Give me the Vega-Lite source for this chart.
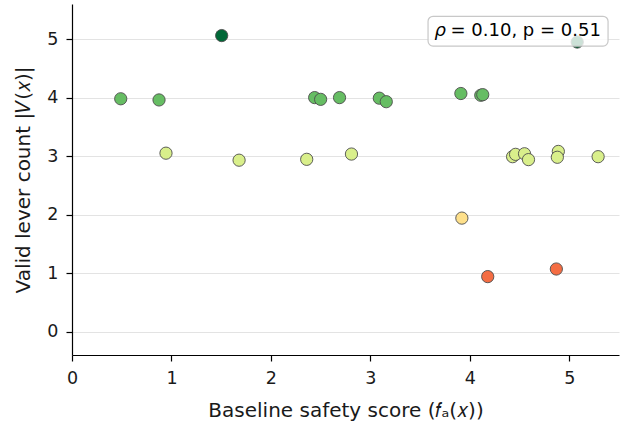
{
  "$schema": "https://vega.github.io/schema/vega-lite/v6.json",
  "autosize": {"type": "none"},
  "width": 547,
  "height": 351,
  "padding": {"left": 72, "top": 4, "right": 5, "bottom": 70},
  "background": "white",
  "config": {
    "view": {"stroke": null},
    "font": "DejaVu Sans",
    "axis": {
      "domainColor": "black",
      "domainWidth": 1.2,
      "tickColor": "black",
      "tickWidth": 1.2,
      "tickSize": 6,
      "labelColor": "#1a1a1a",
      "titleColor": "#1a1a1a",
      "labelFont": "DejaVu Sans",
      "titleFont": "DejaVu Sans",
      "labelFontSize": 17.5,
      "titleFontSize": 20,
      "titleFontWeight": "normal",
      "labelFlush": false,
      "format": "d"
    }
  },
  "data": {
    "values": [
      {"score": 0.49, "count": 3.98, "level": 4},
      {"score": 0.875, "count": 3.96, "level": 4},
      {"score": 1.505, "count": 5.06, "level": 5},
      {"score": 0.945, "count": 3.05, "level": 3},
      {"score": 1.68, "count": 2.93, "level": 3},
      {"score": 2.36, "count": 2.945, "level": 3},
      {"score": 2.81, "count": 3.035, "level": 3},
      {"score": 2.44, "count": 4.0, "level": 4},
      {"score": 2.5, "count": 3.97, "level": 4},
      {"score": 2.69, "count": 4.0, "level": 4},
      {"score": 3.09, "count": 3.99, "level": 4},
      {"score": 3.16, "count": 3.93, "level": 4},
      {"score": 3.91, "count": 4.07, "level": 4},
      {"score": 4.11, "count": 4.04, "level": 4},
      {"score": 4.13, "count": 4.05, "level": 4},
      {"score": 5.08, "count": 4.95, "level": 5},
      {"score": 4.43, "count": 2.99, "level": 3},
      {"score": 4.46, "count": 3.03, "level": 3},
      {"score": 4.55, "count": 3.04, "level": 3},
      {"score": 4.59, "count": 2.94, "level": 3},
      {"score": 4.89, "count": 3.08, "level": 3},
      {"score": 4.88, "count": 2.98, "level": 3},
      {"score": 5.29, "count": 2.99, "level": 3},
      {"score": 3.92, "count": 1.94, "level": 2},
      {"score": 4.18, "count": 0.94, "level": 1},
      {"score": 4.87, "count": 1.07, "level": 1}
    ]
  },
  "layer": [
    {
      "mark": {"type": "point", "filled": true, "size": 150, "opacity": 1, "stroke": "#4d4d4d", "strokeWidth": 0.9},
      "encoding": {
        "x": {
          "field": "score", "type": "quantitative",
          "scale": {"domain": [0, 5.5], "nice": false, "zero": false},
          "axis": {"values": [0, 1, 2, 3, 4, 5], "grid": false, "title": "Baseline safety score (𝑓ₐ(𝑥))", "titlePadding": 14, "labelPadding": 8}
        },
        "y": {
          "field": "count", "type": "quantitative",
          "scale": {"domain": [-0.4, 5.6], "nice": false, "zero": false},
          "axis": {"values": [0, 1, 2, 3, 4, 5], "grid": true, "gridColor": "#e3e3e3", "gridWidth": 1, "title": "Valid lever count |𝑉(𝑥)|", "titlePadding": 13, "labelPadding": 8}
        },
        "fill": {
          "field": "level", "type": "ordinal",
          "scale": {"domain": [1, 2, 3, 4, 5], "range": ["#f46d43", "#fee08b", "#d9ef8b", "#66bd63", "#006837"]},
          "legend": null
        }
      }
    },
    {
      "data": {"values": [{"label": "rho"}]},
      "mark": {"type": "rect", "fill": "white", "fillOpacity": 0.8, "stroke": "#c8c8c8", "strokeWidth": 1.2, "cornerRadius": 5},
      "encoding": {
        "x": {"datum": 3.58, "type": "quantitative"},
        "x2": {"datum": 5.39},
        "y": {"datum": 5.39, "type": "quantitative"},
        "y2": {"datum": 4.88}
      }
    },
    {
      "data": {"values": [{"label": "rho"}]},
      "mark": {"type": "text", "align": "left", "baseline": "middle", "fontSize": 18, "fontStyle": "italic", "fill": "black", "font": "DejaVu Sans"},
      "encoding": {
        "x": {"datum": 3.645, "type": "quantitative"},
        "y": {"datum": 5.135, "type": "quantitative"},
        "text": {"value": "ρ"}
      }
    },
    {
      "data": {"values": [{"label": "rho"}]},
      "mark": {"type": "text", "align": "left", "baseline": "middle", "fontSize": 18, "fill": "black", "font": "DejaVu Sans", "dx": 16},
      "encoding": {
        "x": {"datum": 3.645, "type": "quantitative"},
        "y": {"datum": 5.135, "type": "quantitative"},
        "text": {"value": "= 0.10, p = 0.51"}
      }
    }
  ]
}
